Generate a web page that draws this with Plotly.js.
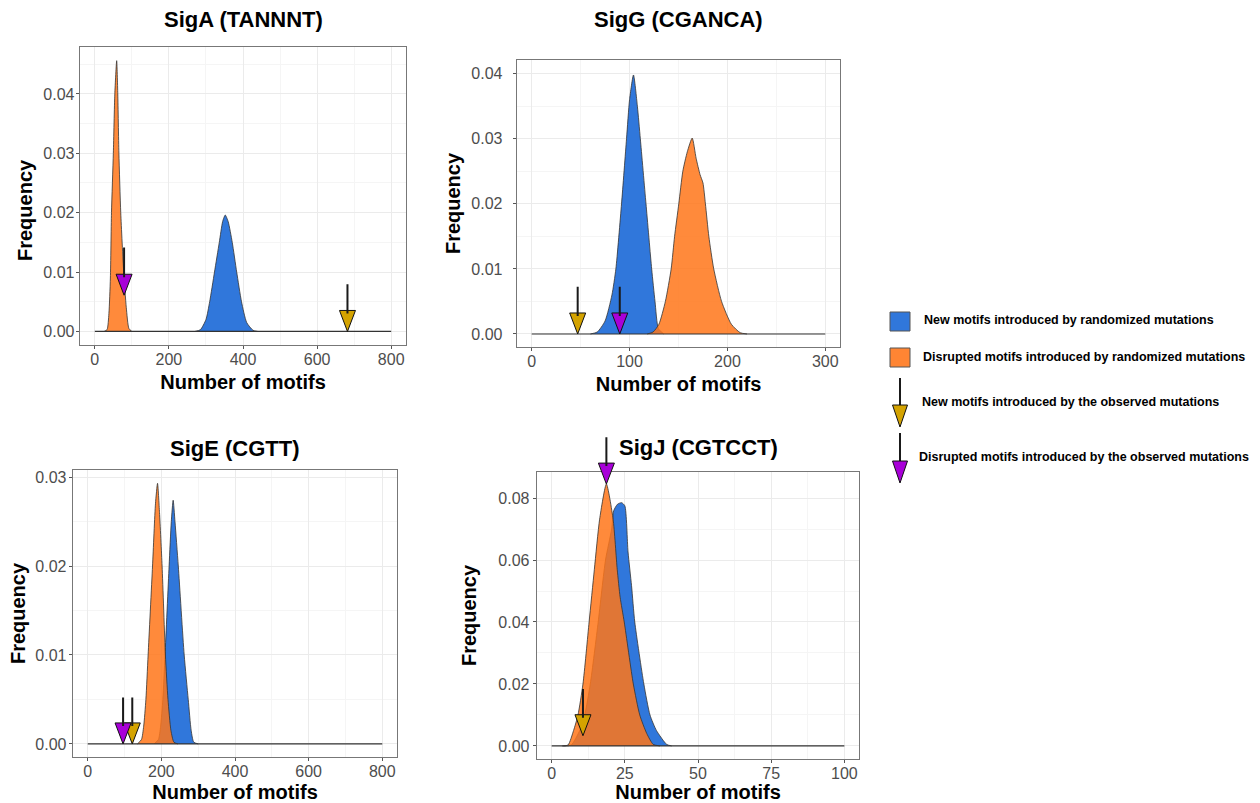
<!DOCTYPE html>
<html><head><meta charset="utf-8">
<script src="https://cdn.plot.ly/plotly-3.0.1.min.js"></script>
<style>html,body{margin:0;padding:0;background:#fff}</style>
</head><body><div id="chart" style="width:1260px;height:803px"></div>
<script>
// ---------------- DATA ----------------
const panelTitles = ['SigA (TANNNT)', 'SigG (CGANCA)', 'SigE (CGTT)', 'SigJ (CGTCCT)'];
const xAxisTitle = 'Number of motifs';
const yAxisTitle = 'Frequency';
const legendLabels = [
  'New motifs introduced by randomized mutations',
  'Disrupted motifs introduced by randomized mutations',
  'New motifs introduced by the observed mutations',
  'Disrupted motifs introduced by the observed mutations'
];

// Range over which each density was evaluated (drawn as the baseline)
const densRangeA = [0, 800];
const densRangeG = [0, 300];
const densRangeE = [0, 800];
const densRangeJ = [0, 100];

// SigA
const sigA_newX = [270, 285, 300, 310, 323, 336, 345, 352, 360, 371, 383, 396, 410, 427, 440];
const sigA_newY = [0, 0.0003, 0.002, 0.005, 0.01, 0.015, 0.0185, 0.0196, 0.0185, 0.015, 0.01, 0.005, 0.0015, 0.0002, 0];
const sigA_disX = [25, 33, 38, 42, 45, 50, 54, 59, 62, 65, 70, 78, 85, 92, 100];
const sigA_disY = [0, 0.0003, 0.003, 0.009, 0.02, 0.03, 0.04, 0.0456, 0.04, 0.03, 0.02, 0.01, 0.004, 0.0005, 0];
// SigG
const sigG_newX = [60, 67, 75, 82, 86, 91.8, 96.9, 100, 104, 108, 111, 116.8, 122.6, 126, 129.5, 135];
const sigG_newY = [0, 0.0003, 0.002, 0.006, 0.01, 0.02, 0.03, 0.036, 0.0398, 0.035, 0.03, 0.02, 0.01, 0.005, 0.0008, 0];
const sigG_disX = [118, 124, 130, 136.6, 142.5, 146, 150.3, 154.4, 159, 164, 168, 172, 175, 177.5, 181, 186, 194, 204, 213, 220];
const sigG_disY = [0, 0.0003, 0.0015, 0.005, 0.01, 0.015, 0.02, 0.025, 0.028, 0.0301, 0.027, 0.0245, 0.0232, 0.02, 0.015, 0.01, 0.005, 0.0015, 0.0002, 0];
// SigE
const sigE_newX = [180, 192, 198, 204, 210, 221, 227, 232, 237, 246, 262, 273, 281, 288, 300];
const sigE_newY = [0, 0.0005, 0.002, 0.005, 0.01, 0.02, 0.025, 0.0274, 0.025, 0.02, 0.01, 0.005, 0.0015, 0.0002, 0];
const sigE_disX = [135, 146, 152, 158, 164, 176, 184, 189.6, 195, 202, 211, 218, 226, 234, 245];
const sigE_disY = [0, 0.0005, 0.002, 0.005, 0.01, 0.02, 0.027, 0.0293, 0.026, 0.02, 0.01, 0.005, 0.0015, 0.0002, 0];
// SigJ
const sigJ_newX = [4, 6.7, 9.6, 11.3, 13.2, 15.9, 18.4, 20.5, 21.2, 22.5, 23.9, 25, 26.1, 27.3, 28.4, 31.5, 33.6, 35.8, 39.3, 41];
const sigJ_newY = [0, 0.0003, 0.005, 0.01, 0.02, 0.04, 0.06, 0.07, 0.0759, 0.078, 0.0785, 0.0775, 0.0626, 0.0517, 0.04, 0.02, 0.01, 0.005, 0.0005, 0];
const sigJ_disX = [3.5, 5.6, 7.5, 9, 10.7, 12.8, 14.6, 16.4, 18.7, 21, 22.4, 23.4, 24.8, 27.9, 30.1, 32.5, 34.7, 37];
const sigJ_disY = [0, 0.0003, 0.005, 0.01, 0.02, 0.04, 0.057, 0.0732, 0.0845, 0.0732, 0.057, 0.048, 0.04, 0.02, 0.01, 0.004, 0.0005, 0];

// Observed values (arrows), order: SigA, SigG, SigE, SigJ
const obsNewX   = [682, 47, 121, 10.7];
const obsNewTop = [0.0082, 0.0075, 0.0054, 0.0189];
const obsNewTip = [0, 0, 0, 0.0033];
const obsDisX   = [79, 90, 96, 18.7];
const obsDisTop = [0.0144, 0.0075, 0.0054, 0.1001];
const obsDisTip = [0.0061, 0, 0, 0.0845];

// tick values per panel
const xTicksA = [0, 200, 400, 600, 800];
const xTicksG = [0, 100, 200, 300];
const xTicksE = [0, 200, 400, 600, 800];
const xTicksJ = [0, 25, 50, 75, 100];
const yTicksA = [0, 0.01, 0.02, 0.03, 0.04];
const yTicksG = [0, 0.01, 0.02, 0.03, 0.04];
const yTicksE = [0, 0.01, 0.02, 0.03];
const yTicksJ = [0, 0.02, 0.04, 0.06, 0.08];

// ---------------- STYLE / LAYOUT ----------------
const W = 1260, H = 803;
const px = v => v / W;
const py = v => 1 - v / H;
const FONT = 'Liberation Sans, Arial, Helvetica, sans-serif';
const BLUE = '#3077DB';
const ORANGE = 'rgba(255,118,25,0.85)';
const ORANGE_SOLID = '#FF8533';
const GOLD = '#D4A300';
const MAGENTA = '#A800D8';
const TITLE_FONT = {family: FONT, size: 20, weight: 'bold', color: '#000'};

const panels = [
  {newX: sigA_newX, newY: sigA_newY, disX: sigA_disX, disY: sigA_disY, rng: densRangeA, xt: xTicksA, yt: yTicksA,
   xr: [-40, 840], yr: [-0.00228, 0.0479], box: [80, 406, 47, 345], xminor: 100, yminor: 0.005, ylab: -2, ytitle: 6,
   ytitleAt: [25, 210]},
  {newX: sigG_newX, newY: sigG_newY, disX: sigG_disX, disY: sigG_disY, rng: densRangeG, xt: xTicksG, yt: yTicksG,
   xr: [-15, 315], yr: [-0.002, 0.0421], box: [517, 840, 60, 347], xminor: 50, yminor: 0.005, ylab: 7, ytitle: 5},
  {newX: sigE_newX, newY: sigE_newY, disX: sigE_disX, disY: sigE_disY, rng: densRangeE, xt: xTicksE, yt: yTicksE,
   xr: [-40, 840], yr: [-0.00147, 0.0308], box: [73, 397, 470, 757], xminor: 100, yminor: 0.005, ylab: -1, ytitle: 4},
  {newX: sigJ_newX, newY: sigJ_newY, disX: sigJ_disX, disY: sigJ_disY, rng: densRangeJ, xt: xTicksJ, yt: yTicksJ,
   xr: [-5, 105], yr: [-0.00421, 0.0884], box: [537, 859, 472, 759], xminor: 12.5, yminor: 0.01, ylab: 0, ytitle: 16}
];
const titleY = [20, 20, 448, 447];

const traces = [];
const layout = {
  width: W, height: H,
  margin: {l: 0, r: 0, t: 0, b: 0},
  paper_bgcolor: '#fff', plot_bgcolor: '#fff',
  showlegend: false,
  font: {family: FONT, color: '#000'},
  annotations: [], shapes: []
};

panels.forEach((p, i) => {
  const s = i === 0 ? '' : String(i + 1);
  const xa = 'x' + s, ya = 'y' + s;
  const [l, r, t, b] = p.box;
  const lineStyle = {color: '#333', width: 0.8, shape: 'spline', smoothing: 0.6};
  traces.push({
    type: 'scatter', mode: 'lines', x: p.newX, y: p.newY, xaxis: xa, yaxis: ya,
    fill: 'tozeroy', fillcolor: BLUE, line: lineStyle, hoverinfo: 'skip'
  });
  traces.push({
    type: 'scatter', mode: 'lines', x: p.disX, y: p.disY, xaxis: xa, yaxis: ya,
    fill: 'tozeroy', fillcolor: ORANGE, line: lineStyle, hoverinfo: 'skip'
  });
  traces.push({
    type: 'scatter', mode: 'lines', x: p.rng, y: p.rng.map(() => 0), xaxis: xa, yaxis: ya,
    line: {color: '#333', width: 1.2}, hoverinfo: 'skip'
  });
  const common = {
    showline: true, mirror: true, linecolor: '#777', linewidth: 1.3,
    showgrid: true, gridcolor: '#EBEBEB', gridwidth: 1, zeroline: false,
    ticks: 'outside', ticklen: 3, tickcolor: '#555', tickwidth: 1,
    tickfont: {family: FONT, size: 16, color: '#4D4D4D'}
  };
  layout['xaxis' + s] = Object.assign({}, common, {
    domain: [px(l), px(r)], anchor: ya, range: p.xr,
    tickmode: 'array', tickvals: p.xt, ticklabelstandoff: -4,
    minor: {showgrid: true, gridcolor: '#F5F5F5', dtick: p.xminor, tick0: 0},
    title: {text: xAxisTitle, font: TITLE_FONT, standoff: 8}
  });
  layout['yaxis' + s] = Object.assign({}, common, {
    domain: [py(b), py(t)], anchor: xa, range: p.yr,
    tickmode: 'array', tickvals: p.yt, tickformat: '.2f', ticklabelstandoff: p.ylab,
    minor: {showgrid: true, gridcolor: '#F5F5F5', dtick: p.yminor, tick0: 0},
    title: p.ytitleAt ? {text: ''} : {text: yAxisTitle, font: TITLE_FONT, standoff: p.ytitle}
  });
  if (p.ytitleAt) {
    // this panel's y title sits lower than the panel centre in the reference
    layout.annotations.push({
      xref: 'paper', yref: 'paper', x: px(p.ytitleAt[0]), y: py(p.ytitleAt[1]),
      xanchor: 'center', yanchor: 'middle', showarrow: false, textangle: -90,
      text: yAxisTitle, font: TITLE_FONT
    });
  }
  layout.annotations.push({
    xref: 'paper', yref: 'paper', x: px((l + r) / 2), y: py(titleY[i]),
    xanchor: 'center', yanchor: 'middle', showarrow: false,
    text: panelTitles[i], font: {family: FONT, size: 22, weight: 'bold', color: '#000'}
  });
  // observed arrows
  [[obsNewX[i], obsNewTop[i], obsNewTip[i], GOLD], [obsDisX[i], obsDisTop[i], obsDisTip[i], MAGENTA]].forEach(([ax, top, tip, col]) => {
    layout.annotations.push({
      xref: xa, yref: ya, axref: xa, ayref: ya,
      x: ax, y: tip, ax: ax, ay: top, text: '',
      showarrow: true, arrowhead: 0, arrowwidth: 2, arrowcolor: '#1a1a1a', standoff: 18
    });
    layout.shapes.push({
      type: 'path', xref: xa, yref: ya, xsizemode: 'pixel', ysizemode: 'pixel',
      xanchor: ax, yanchor: tip, path: 'M-8,21 L8,21 L0,0 Z',
      fillcolor: col, line: {color: '#111', width: 1}, layer: 'above', name: 'arrowhead'
    });
  });
});

// ---------------- LEGEND (manual) ----------------
const legSquares = [[312, 331, BLUE], [348, 367, ORANGE_SOLID]];
legSquares.forEach(([y0, y1, c]) => {
  layout.shapes.push({type: 'rect', xref: 'paper', yref: 'paper', x0: px(890), x1: px(910), y0: py(y1), y1: py(y0),
    fillcolor: c, line: {color: '#555', width: 1}});
});
const legArrows = [[378, 427, GOLD], [433, 483, MAGENTA]];
legArrows.forEach(([top, tip, c]) => {
  layout.shapes.push({type: 'line', xref: 'paper', yref: 'paper', x0: px(900), x1: px(900), y0: py(top), y1: py(tip - 20),
    line: {color: '#1a1a1a', width: 2}});
  layout.shapes.push({type: 'path', xref: 'paper', yref: 'paper', xsizemode: 'pixel', ysizemode: 'pixel',
    xanchor: px(900), yanchor: py(tip), path: 'M-7.5,22 L7.5,22 L0,0 Z',
    fillcolor: c, line: {color: '#111', width: 1}});
});
const legTextY = [320, 357, 402, 457];
const legTextX = [922, 921, 920, 917];
legendLabels.forEach((t, i) => {
  layout.annotations.push({xref: 'paper', yref: 'paper', x: px(legTextX[i]), y: py(legTextY[i]),
    xanchor: 'left', yanchor: 'middle', showarrow: false, text: t,
    font: {family: FONT, size: 12.5, weight: 'bold', color: '#000'}});
});

function unclipArrowheads() {
  // let arrowheads that poke above a panel border stay visible (as in the reference)
  document.querySelectorAll('.shapelayer [clip-path], .shapelayer [style*="clip-path"]').forEach(el => {
    el.removeAttribute('clip-path');
    if (el.style) el.style.clipPath = '';
  });
}
Plotly.newPlot('chart', traces, layout, {displayModeBar: false, staticPlot: true}).then(() => {
  unclipArrowheads();
  setTimeout(unclipArrowheads, 50);
});
</script></body></html>
